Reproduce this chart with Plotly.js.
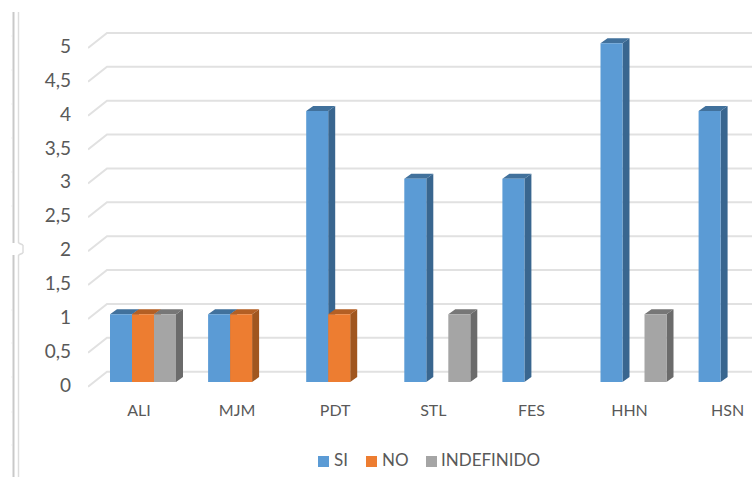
<!DOCTYPE html>
<html>
<head>
<meta charset="utf-8">
<script src="https://cdn.plot.ly/plotly-3.0.1.min.js"></script>
<style>html,body{margin:0;padding:0;background:#fff;overflow:hidden}</style>
</head>
<body>
<div id="chart" style="width:752px;height:477px"></div>
<script>
const categories = ['ALI','MJM','PDT','STL','FES','HHN','HSN'];
const si = [1,1,4,3,3,5,4];
const no = [1,1,1,0,0,0,0];
const indefinido = [1,0,0,1,0,1,0];
const yTicks = [0,0.5,1,1.5,2,2.5,3,3.5,4,4.5,5];
const frameTicks = [36,70,104,138,172,206,310,343,377,412,445];

const W = 752, H = 477;
const m = {l:88, r:0, t:20, b:85, autoexpand:false};
const pw = W - m.l - m.r, ph = H - m.t - m.b;
const pxPerCat = 98.1, pxPerUnit = 67.75;
const x0Px = 143, y0Px = 382;
const xRange = [(m.l - x0Px)/pxPerCat, (W - m.r - x0Px)/pxPerCat];
const yRange = [(y0Px - (H - m.b))/pxPerUnit, (y0Px - m.t)/pxPerUnit];
const slot = 22/pxPerCat, dX = 7/pxPerCat, dV = 5/pxPerUnit;
const px = x => (x - m.l)/pw;
const py = y => 1 - (y - m.t)/ph;

const series = [
  {name:'SI', v:si, c:'#5b9bd5', side:'#39668f', top:'#41719c', s:-1, keyX:318, textX:334},
  {name:'NO', v:no, c:'#ed7d31', side:'#a0561f', top:'#b35f24', s:0, keyX:366, textX:382},
  {name:'INDEFINIDO', v:indefinido, c:'#a5a5a5', side:'#6b6b6b', top:'#777777', s:1, keyX:426, textX:441}
];

const traces = [];
yTicks.forEach(t => {
  traces.push({
    type:'scatter', mode:'lines', xaxis:'x', yaxis:'y', showlegend:false, hoverinfo:'skip',
    x:[xRange[0], xRange[0] + 19/pxPerCat, xRange[1]],
    y:[t - 4.7/pxPerUnit, t + 10.3/pxPerUnit, t + 10.3/pxPerUnit],
    line:{color:'#e1e1e1', width:2}
  });
});
series.forEach(sr => {
  const sx = [], sy = [], tx = [], ty = [];
  sr.v.forEach((v,i) => {
    if (!v) return;
    const a = i + sr.s*slot - slot/2, b = a + slot;
    sx.push(b, b+dX, b+dX, b, b, null);
    sy.push(v, v+dV, dV, 0, v, null);
    tx.push(a, a+dX, b+dX, b, a, null);
    ty.push(v, v+dV, v+dV, v, v, null);
  });
  [[sx,sy,sr.side],[tx,ty,sr.top]].forEach(f => traces.push({
    type:'scatter', mode:'lines', xaxis:'x', yaxis:'y', showlegend:false, hoverinfo:'skip',
    x:f[0], y:f[1], fill:'toself', fillcolor:f[2], line:{width:0, color:f[2]}
  }));
});
series.forEach(sr => traces.push({
  type:'bar', name:sr.name, x:categories, y:sr.v, xaxis:'x2', yaxis:'y', showlegend:false,
  marker:{color:sr.c, line:{width:0}}
}));

const lc1 = '#c9c9c9', lc2 = '#dcdcdc';
const line = (x1,y1,x2,y2,c,w) => ({type:'line', xref:'paper', yref:'paper',
  x0:px(x1), y0:py(y1), x1:px(x2), y1:py(y2), line:{color:c, width:w}});
const shapes = [
  line(13.5,12,13.5,243,lc1,2), line(13.5,255,13.5,477,lc1,2),
  line(18.5,12,18.5,243,lc2,1.5), line(18.5,255,18.5,477,lc2,1.5),
  line(18.5,243,23,245,lc2,1.5), line(23,245,23,253,lc2,1.5), line(23,253,18.5,255,lc2,1.5)
].concat(frameTicks.map(y => line(11.5,y,13,y,'#e2e2e2',1)));

const fnt = {family:'Lato, "Open Sans", sans-serif', color:'#595959', size:16};
series.forEach(sr => shapes.push({type:'rect', xref:'paper', yref:'paper',
  x0:px(sr.keyX), x1:px(sr.keyX+11), y0:py(467), y1:py(456),
  fillcolor:sr.c, line:{width:0}}));
const annotations = series.map(sr => ({xref:'paper', yref:'paper', x:px(sr.textX), y:py(459.5),
  xanchor:'left', yanchor:'middle', showarrow:false, text:sr.name, borderpad:0, borderwidth:0,
  font:Object.assign({},fnt,{size:17})}));

Plotly.newPlot('chart', traces, {
  width:W, height:H, margin:m, paper_bgcolor:'#fff', plot_bgcolor:'#fff',
  separators:',.', barmode:'group', bargap:1-3*slot, bargroupgap:0,
  xaxis:{type:'linear', range:xRange, visible:false, fixedrange:true},
  xaxis2:{type:'category', overlaying:'x', side:'bottom', range:xRange, categoryorder:'array',
    categoryarray:categories, showgrid:false, zeroline:false, showline:false, ticks:'',
    tickfont:fnt, ticklabelstandoff:7, ticklabelshift:-4, fixedrange:true},
  yaxis:{range:yRange, tickmode:'array', tickvals:yTicks, showgrid:false, zeroline:false,
    showline:false, ticks:'', tickfont:Object.assign({},fnt,{size:19}), ticklabelstandoff:16,
    ticklabelshift:3, fixedrange:true},
  shapes:shapes, annotations:annotations, showlegend:false, hovermode:false
}, {displayModeBar:false, staticPlot:true});
</script>
</body>
</html>
